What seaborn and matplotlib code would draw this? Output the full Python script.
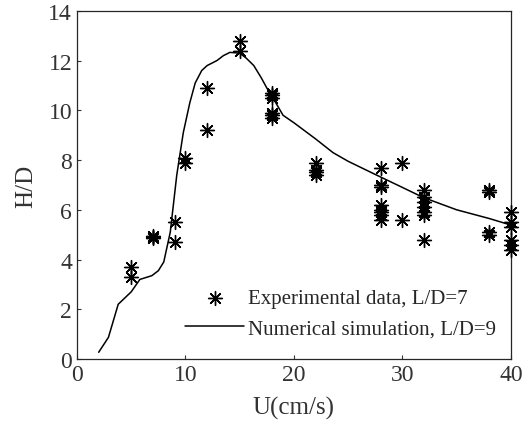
import numpy as np
import pandas as pd
import matplotlib
import matplotlib.pyplot as plt
import seaborn as sns

# experimental data, L/D=7
exp_u = [5, 5, 7, 7, 7, 9, 9, 10, 10, 12, 12, 15, 15,
         18, 18, 18, 18, 18, 18, 22, 22, 22, 22,
         28, 28, 28, 28, 28, 28, 28, 28, 30, 30,
         32, 32, 32, 32, 32, 32, 32, 38, 38, 38, 38,
         40, 40, 40, 40, 40, 40]
exp_hd = [3.7, 3.3, 4.85, 4.9, 4.95, 5.5, 4.7, 8.1, 7.9, 10.9, 9.2, 12.8, 12.4,
          10.7, 10.6, 10.5, 9.9, 9.8, 9.7, 7.9, 7.6, 7.5, 7.4,
          7.7, 7.0, 6.9, 6.2, 6.0, 5.9, 5.8, 5.6, 7.9, 5.6,
          6.8, 6.5, 6.3, 6.1, 5.9, 5.8, 4.8, 6.8, 6.7, 5.1, 5.0,
          5.9, 5.5, 5.3, 4.8, 4.6, 4.4]

# numerical simulation, L/D=9
sim_u = [2, 2.9, 3.8, 5, 5.8, 6.9, 7.5, 8.0, 8.6, 9.2, 9.8, 10.4, 10.9, 11.5, 12.0,
         12.9, 13.5, 14.1, 15.0, 15.6, 16.3, 17.0, 17.5, 18.2, 19.0, 20, 22,
         23.6, 25, 27.6, 30, 31.9, 35, 38, 39.9]
sim_hd = [0.27, 0.87, 2.2, 2.7, 3.2, 3.35, 3.55, 3.9, 5.1, 7.4, 9.1, 10.3, 11.1, 11.6, 11.8,
          12.0, 12.2, 12.33, 12.3, 12.1, 11.8, 11.3, 10.9, 10.4, 9.8, 9.5, 8.85,
          8.3, 7.95, 7.4, 6.9, 6.5, 6.0, 5.65, 5.4]

sns.set_style('ticks')
plt.rcParams['font.family'] = ['Liberation Serif', 'DejaVu Serif']
plt.rcParams['xtick.direction'] = 'in'
plt.rcParams['ytick.direction'] = 'in'

fig, ax = plt.subplots(figsize=(5.31, 4.39), dpi=100)
fig.subplots_adjust(left=0.145, right=0.962, bottom=0.18, top=0.973)

sns.scatterplot(x=exp_u, y=exp_hd, marker=(8, 2, 0), s=100, color='k',
                linewidth=1.0, edgecolor='k', label='Experimental data, L/D=7',
                clip_on=False, zorder=3, ax=ax)
sns.lineplot(x=sim_u, y=sim_hd, color='k', linewidth=1.1,
             label='Numerical simulation, L/D=9', ax=ax)

ax.set_xlim(0, 40)
ax.set_ylim(0, 14)
ax.set_xticks([0, 10, 20, 30, 40])
ax.set_yticks(range(0, 15, 2))
ax.tick_params(labelsize=17, length=3, width=0.8, colors='#333333', labelcolor='#333333')
for s in ax.spines.values():
    s.set_linewidth(0.9)
ax.set_xlabel('U(cm/s)', fontsize=18, color='#333333', labelpad=8)
ax.set_ylabel('H/D', fontsize=18, color='#333333', labelpad=8)

ax.legend(loc='lower right', frameon=False, fontsize=15, handlelength=2.8,
          handletextpad=0.2, labelspacing=0.5, borderaxespad=0.0,
          bbox_to_anchor=(0.985, 0.035))

plt.savefig('out.png', dpi=100)
